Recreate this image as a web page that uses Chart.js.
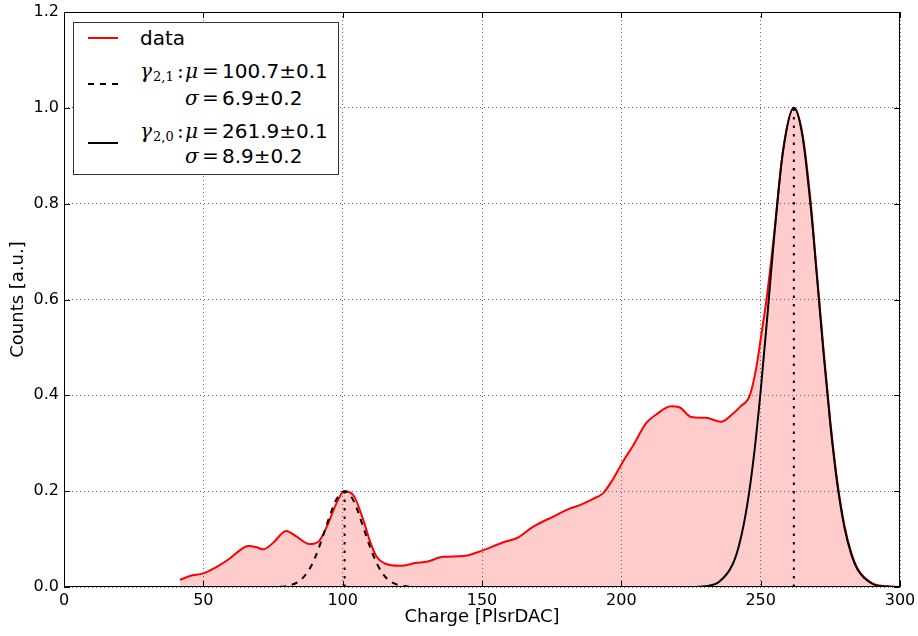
<!DOCTYPE html>
<html lang="en">
<head>
<meta charset="UTF-8" />
<title>Charge spectrum</title>
<script src="https://cdn.jsdelivr.net/npm/chart.js"></script>
<style>
  body { margin: 0; background: #fff; }
  #wrap { position: relative; width: 918px; height: 636px; }
  /* legend box drawn in html so the math can stay real text */
  #legendBox {
    position: absolute; left: 73px; top: 22px; width: 264px; height: 151px;
    border: 1px solid #333; background: #fff;
    font-family: "DejaVu Sans"; font-size: 20px; color: #000;
  }
  .t { position: absolute; white-space: nowrap; line-height: 20px; }
  .m { font-family: "DejaVu Serif", "Liberation Serif", serif; font-style: italic; }
  .eq { font-family: "DejaVu Serif", "Liberation Serif", serif; }
  .sub { font-family: "DejaVu Serif", "Liberation Serif", serif; font-size: 13px; }
  .sw { position: absolute; left: 14px; width: 30px; height: 2px; }
</style>
</head>
<body>
<div id="wrap">
  <canvas id="chart" width="918" height="636"></canvas>
  <div id="legendBox">
    <div class="sw" style="top:14px; background:#ff0000;"></div>
    <div class="t" style="left:66px; top:5px;">data</div>

    <div class="sw" style="top:60px; background:repeating-linear-gradient(to right, #000 0 6px, transparent 6px 12px);"></div>
    <div class="t m" style="left:66px; top:38px;">γ</div>
    <div class="t sub" style="left:79px; top:44px;">2,1</div>
    <div class="t eq" style="left:103px; top:38px;">:</div>
    <div class="t m" style="left:111px; top:38px;">μ</div>
    <div class="t eq" style="left:128px; top:38px;">=</div>
    <div class="t" style="left:148px; top:38px;">100.7±0.1</div>
    <div class="t m" style="left:111px; top:65px;">σ</div>
    <div class="t eq" style="left:128px; top:65px;">=</div>
    <div class="t" style="left:148px; top:65px;">6.9±0.2</div>

    <div class="sw" style="top:119px; background:#000;"></div>
    <div class="t m" style="left:66px; top:98px;">γ</div>
    <div class="t sub" style="left:79px; top:104px;">2,0</div>
    <div class="t eq" style="left:103px; top:98px;">:</div>
    <div class="t m" style="left:111px; top:98px;">μ</div>
    <div class="t eq" style="left:128px; top:98px;">=</div>
    <div class="t" style="left:148px; top:98px;">261.9±0.1</div>
    <div class="t m" style="left:111px; top:123px;">σ</div>
    <div class="t eq" style="left:128px; top:123px;">=</div>
    <div class="t" style="left:148px; top:123px;">8.9±0.2</div>
  </div>
</div>

<script>
  var dataX = [41.6, 45.2, 50, 54.8, 59.6, 63.2, 66.1, 69.1, 71.5, 75.1, 79.7, 83.5, 88.0, 91.3,
    94.3, 97.8, 100.5, 103.8, 107.4, 110, 112.2, 115.2, 120.6, 126.5, 130.1, 136.1, 143.3, 150,
    157.7, 162.4, 168.4, 175.6, 181.6, 185.1, 189.9, 193.5, 197, 200.6, 204.2, 208.9, 212.5,
    217.9, 220.8, 225, 230.4, 235.7, 239.9, 242.6, 246.1, 248.5, 250.3, 252.1, 255, 258, 261.9,
    265, 268, 270, 272.5, 275, 277.5, 280, 282.5, 285, 290, 295, 300];
  var dataY = [0.015, 0.023, 0.0285, 0.042, 0.060, 0.077, 0.0855, 0.083, 0.0786, 0.0925, 0.117,
    0.105, 0.0897, 0.0946, 0.126, 0.175, 0.2, 0.192, 0.140, 0.092, 0.063, 0.049, 0.0441, 0.0505,
    0.0526, 0.063, 0.0645, 0.076, 0.0934, 0.1017, 0.126, 0.147, 0.164, 0.171, 0.184, 0.196,
    0.225, 0.262, 0.295, 0.342, 0.36, 0.377, 0.375, 0.355, 0.353, 0.345, 0.361, 0.376, 0.40,
    0.46, 0.529, 0.60, 0.745, 0.91, 1.0, 0.945, 0.80, 0.665, 0.50, 0.345, 0.22, 0.13, 0.072,
    0.036, 0.008, 0.0015, 0.0002];

  // gamma 2,1 fit curve
  var fit1X = [0, 70, 75, 80, 85, 88, 90, 92.5, 95, 97.5, 100.7, 103, 105, 107.5, 110, 112.5,
    115, 117.5, 120, 125, 130, 300];
  var fit1Y = [0, 0, 0.0002, 0.0022, 0.015, 0.0368, 0.060, 0.0987, 0.142, 0.180, 0.2, 0.189,
    0.165, 0.123, 0.0807, 0.0464, 0.0233, 0.0103, 0.004, 0.0004, 0, 0];

  // gamma 2,0 fit curve
  var fit2X = [0, 225, 230, 235, 240, 242.5, 245, 247.5, 250, 252.5, 255, 258, 261.9, 265, 268,
    270, 272.5, 275, 277.5, 280, 282.5, 285, 290, 295, 300];
  var fit2Y = [0, 0.0001, 0.0016, 0.0104, 0.048, 0.093, 0.165, 0.270, 0.409, 0.572, 0.741,
    0.908, 1.0, 0.941, 0.791, 0.661, 0.492, 0.339, 0.215, 0.126, 0.0686, 0.0345, 0.0068, 0.001,
    0.0001];

  // fitted peak positions and heights (dotted markers)
  var fitMu = [100.7, 261.9];
  var fitAmp = [0.2, 1.0];

  var xTickValues = [0, 50, 100, 150, 200, 250, 300];
  var yTickValues = [0, 0.2, 0.4, 0.6, 0.8, 1.0, 1.2];

  function pts(xs, ys) {
    return xs.map(function (x, i) { return { x: x, y: ys[i] }; });
  }

  // black frame + inward ticks on all four sides
  var framePlugin = {
    id: "frame",
    afterDraw: function (chart) {
      var ctx = chart.ctx, a = chart.chartArea, sx = chart.scales.x, sy = chart.scales.y;
      ctx.save();
      ctx.strokeStyle = "#000";
      ctx.lineWidth = 1;
      ctx.strokeRect(a.left + 0.5, a.top + 0.5, a.right - a.left - 1, a.bottom - a.top - 1);
      ctx.beginPath();
      sx.ticks.forEach(function (t) {
        var px = Math.round(sx.getPixelForValue(t.value)) + 0.5;
        ctx.moveTo(px, a.bottom); ctx.lineTo(px, a.bottom - 6);
        ctx.moveTo(px, a.top); ctx.lineTo(px, a.top + 6);
      });
      sy.ticks.forEach(function (t) {
        var py = Math.round(sy.getPixelForValue(t.value)) + 0.5;
        ctx.moveTo(a.left, py); ctx.lineTo(a.left + 6, py);
        ctx.moveTo(a.right, py); ctx.lineTo(a.right - 6, py);
      });
      ctx.stroke();
      ctx.restore();
    },
  };

  Chart.defaults.font.family = "DejaVu Sans";
  Chart.defaults.color = "#000";

  var gridStyle = {
    color: "rgba(0,0,0,0.6)",
    lineWidth: 1,
    drawTicks: false,
  };

  var markerSets = fitMu.map(function (mu, i) {
    return {
      data: [{ x: mu, y: 0 }, { x: mu, y: fitAmp[i] }],
      borderColor: "#000",
      borderWidth: 2,
      borderDash: [2.5, 6],
      pointRadius: 0,
      showLine: true,
      order: 0,
    };
  });

  var ctx = document.getElementById("chart").getContext("2d");
  var chart = new Chart(ctx, {
    type: "scatter",
    data: {
      datasets: markerSets.concat([
        {
          label: "fit 2,0",
          data: pts(fit2X, fit2Y),
          borderColor: "#000",
          borderWidth: 2,
          pointRadius: 0,
          showLine: true,
          cubicInterpolationMode: "monotone",
          order: 1,
        },
        {
          label: "fit 2,1",
          data: pts(fit1X, fit1Y),
          borderColor: "#000",
          borderWidth: 2,
          borderDash: [6, 6],
          pointRadius: 0,
          showLine: true,
          cubicInterpolationMode: "monotone",
          order: 2,
        },
        {
          label: "data",
          data: pts(dataX, dataY),
          borderColor: "#ff0000",
          borderWidth: 2,
          backgroundColor: "rgba(255,0,0,0.2)",
          fill: "origin",
          pointRadius: 0,
          showLine: true,
          cubicInterpolationMode: "monotone",
          order: 3,
        },
      ]),
    },
    options: {
      responsive: false,
      animation: false,
      layout: { padding: { top: 12, right: 18, left: 0, bottom: 0 } },
      plugins: { legend: { display: false }, tooltip: { enabled: false } },
      scales: {
        x: {
          type: "linear",
          min: 0,
          max: 300,
          afterBuildTicks: function (s) {
            s.ticks = xTickValues.map(function (v) { return { value: v }; });
          },
          afterFit: function (s) {
            s.height = 49;
            // the plot edges are set by layout padding, not by label overflow
            s.paddingLeft = 0;
            s.paddingRight = 0;
          },
          grid: Object.assign({ borderDash: [1, 3] }, gridStyle),
          border: { display: false, dash: [1, 3] },
          ticks: { font: { size: 16 }, padding: 4, maxRotation: 0 },
          title: {
            display: true,
            text: "Charge [PlsrDAC]",
            font: { size: 18 },
            padding: { top: 0, bottom: 8 },
          },
        },
        y: {
          min: 0,
          max: 1.2,
          afterBuildTicks: function (s) {
            s.ticks = yTickValues.map(function (v) { return { value: v }; });
          },
          afterFit: function (s) {
            s.width = 64;
            s.paddingTop = 0;
            s.paddingBottom = 0;
          },
          grid: gridStyle,
          border: { display: false, dash: [1, 3] },
          ticks: {
            font: { size: 16 },
            padding: 5,
            callback: function (v) { return v.toFixed(1); },
          },
          title: {
            display: true,
            text: "Counts [a.u.]",
            font: { size: 18 },
            padding: { top: 8, bottom: 0 },
          },
        },
      },
    },
    plugins: [framePlugin],
  });
</script>
</body>
</html>
